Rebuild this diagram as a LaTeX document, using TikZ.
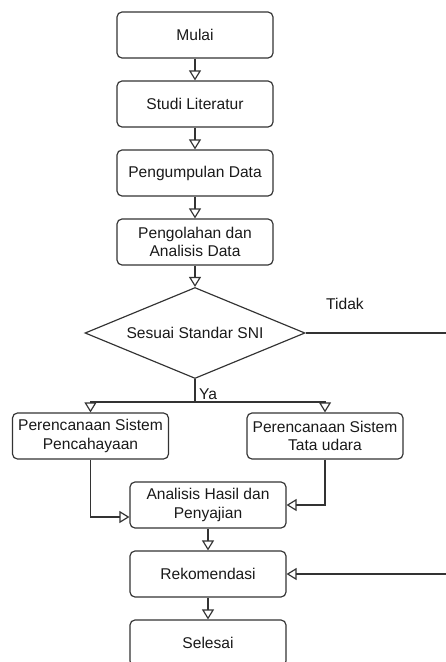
\documentclass[tikz,border=0pt]{standalone}
\usepackage{fontspec}
\setmainfont{Liberation Sans}
\usetikzlibrary{shapes.geometric,arrows.meta}
\tikzset{
	teks/.style={font=\fontsize{13.3}{15.5}\selectfont, text=black!90},
	proses/.style={teks, draw=black!80, line width=1pt, rounded corners=0.15cm, minimum width=4.68cm, minimum height=1.38cm, align=center, inner sep=2pt},
	keputusan/.style={teks, draw=black!80, line width=1pt, diamond, aspect=2.42, minimum width=6.6cm, minimum height=2.73cm, inner sep=0pt},
	garis/.style={draw=black!80, line width=1pt},
	panah/.style={garis, -{Triangle[open, length=0.3cm, width=0.36cm]}}
}
\begin{document}
\begin{tikzpicture}[x=0.03cm, y=-0.03cm]
		\useasboundingbox (0,0) rectangle (446,662);
		\node[proses] (mulai) at (195,35) {Mulai};
		\node[proses] (studi) at (195,104) {Studi Literatur};
		\node[proses] (kumpul) at (195,173) {Pengumpulan Data};
		\node[proses] (olah) at (195,242) {Pengolahan dan\\Analisis Data};
		\node[keputusan] (sni) at (195,333) {Sesuai Standar SNI};
		\node[proses] (cahaya) at (90.5,436) {Perencanaan Sistem\\Pencahayaan};
		\node[proses] (udara) at (325,436) {Perencanaan Sistem\\Tata udara};
		\node[proses] (hasil) at (208,505) {Analisis Hasil dan\\Penyajian};
		\node[proses] (rekom) at (208,574) {Rekomendasi};
		\node[proses] (selesai) at (208,643) {Selesai};
		\coordinate (cabang) at (195,402);
		\coordinate (tidak) at (446,333);
		\coordinate (balik) at (446,574);
		\node[teks] (ya-label) at (208,394) {Ya};
		\node[teks] (tidak-label) at (345,304) {Tidak};
		\draw[panah] (mulai) -- (studi);
		\draw[panah] (studi) -- (kumpul);
		\draw[panah] (kumpul) -- (olah);
		\draw[panah] (olah) -- (sni);
		\draw[garis] (sni.south) -- (cabang);
		\draw[panah] (cabang) -| (cahaya.north);
		\draw[panah] (cabang) -| (udara.north);
		\draw[garis] (sni.east) -- (tidak);
		\draw[panah] (cahaya.south) |- ([yshift=-0.36cm]hasil.west);
		\draw[panah] (udara.south) |- (hasil.east);
		\draw[panah] (hasil) -- (rekom);
		\draw[panah] (rekom) -- (selesai);
		\draw[panah] (balik) -- (rekom.east);
	\end{tikzpicture}
\end{document}
